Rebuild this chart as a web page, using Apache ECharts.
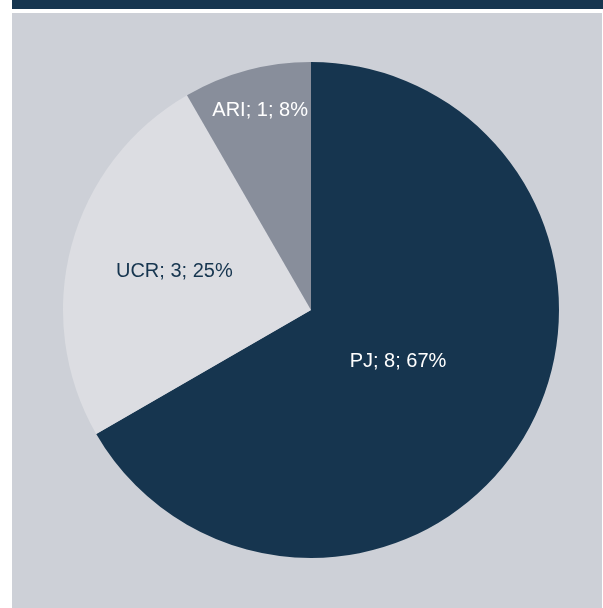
<!DOCTYPE html>
<html>
<head>
<meta charset="utf-8">
<script src="https://cdn.jsdelivr.net/npm/echarts@6/dist/echarts.min.js"></script>
<style>
  html, body { margin: 0; padding: 0; background: #ffffff; }
  #chart { width: 603px; height: 608px; }
</style>
</head>
<body>
<div id="chart"></div>
<script>
  var categories = ['PJ', 'UCR', 'ARI'];
  var values = [8, 3, 1];
  var percents = [67, 25, 8];
  var sliceColors = ['#16354f', '#dcdde2', '#888e9b'];
  var labelColors = ['#ffffff', '#16354f', '#ffffff'];
  // nudges so labels sit where the original put them
  var labelOffsets = [[-23, -12], [-14, -6], [-18, -77]];

  var chart = echarts.init(document.getElementById('chart'));

  var pieData = categories.map(function (name, i) {
    return {
      name: name,
      value: values[i],
      itemStyle: { color: sliceColors[i] },
      label: {
        color: labelColors[i],
        offset: labelOffsets[i],
        formatter: name + '; ' + values[i] + '; ' + percents[i] + '%'
      }
    };
  });

  chart.setOption({
    animation: false,
    graphic: [
      {
        type: 'rect',
        shape: { x: 12, y: 0, width: 591, height: 9 },
        style: { fill: '#16354f' },
        silent: true
      },
      {
        type: 'rect',
        shape: { x: 12, y: 13, width: 590, height: 595 },
        style: { fill: '#cdd0d7' },
        silent: true,
        z: -10
      }
    ],
    series: [
      {
        type: 'pie',
        center: [311, 310],
        radius: 248,
        startAngle: 90,
        clockwise: true,
        z: 10,
        label: {
          show: true,
          position: 'inside',
          fontFamily: 'Liberation Sans',
          fontSize: 20
        },
        labelLine: { show: false },
        emphasis: { disabled: true },
        itemStyle: { borderWidth: 0 },
        data: pieData
      }
    ]
  });
</script>
</body>
</html>
